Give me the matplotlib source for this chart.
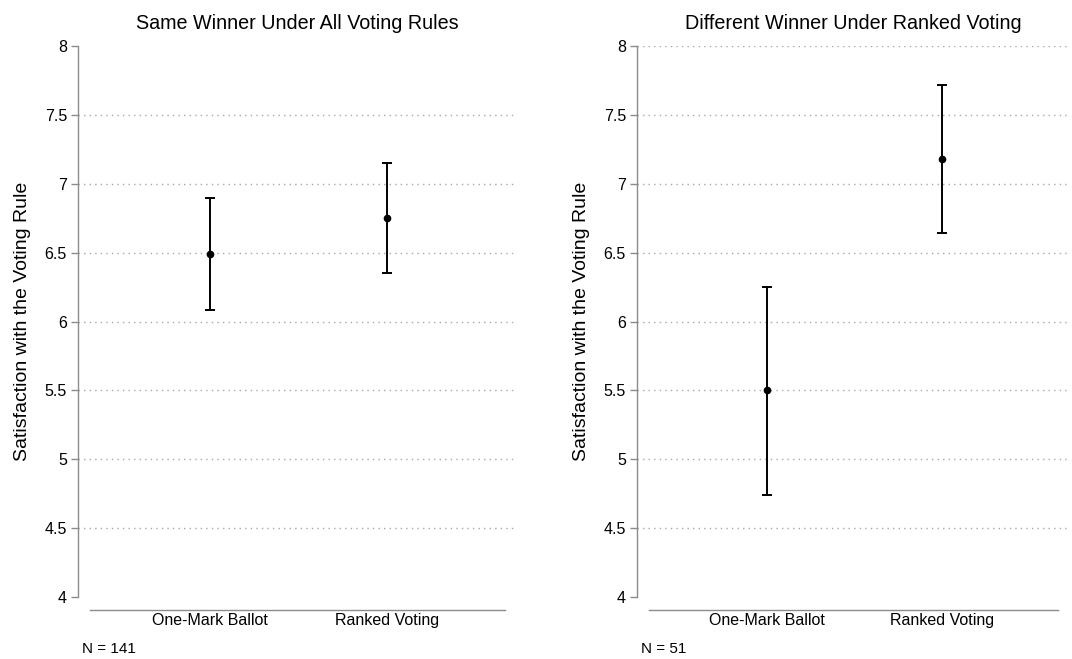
import numpy as np
import matplotlib.pyplot as plt

plt.rcParams['font.family'] = ['Liberation Sans', 'DejaVu Sans']

# data
categories = ["One-Mark Ballot", "Ranked Voting"]
titles = ["Same Winner Under All Voting Rules", "Different Winner Under Ranked Voting"]
n_labels = ["N = 141", "N = 51"]

same_mean = [6.49, 6.75]
same_lo = [6.08, 6.35]
same_hi = [6.90, 7.15]

diff_mean = [5.50, 7.18]
diff_lo = [4.74, 6.64]
diff_hi = [6.25, 7.72]

yticks = [4, 4.5, 5, 5.5, 6, 6.5, 7, 7.5, 8]
ytick_labels = ["4", "4.5", "5", "5.5", "6", "6.5", "7", "7.5", "8"]

W, H = 1072, 659
fig = plt.figure(figsize=(W / 100, H / 100), dpi=100)

panels = [
    dict(rect=[78 / W, 62 / H, 439 / W, 551 / H], mean=same_mean, lo=same_lo, hi=same_hi,
         title=titles[0], n=n_labels[0], grid=yticks[1:-1]),
    dict(rect=[637 / W, 62 / H, 433 / W, 551 / H], mean=diff_mean, lo=diff_lo, hi=diff_hi,
         title=titles[1], n=n_labels[1], grid=yticks[1:]),
]

x = np.arange(1, len(categories) + 1)
grey = "#8c8c8c"

for p in panels:
    ax = fig.add_axes(p["rect"])
    mean = np.array(p["mean"])
    err = [mean - np.array(p["lo"]), np.array(p["hi"]) - mean]

    for g in p["grid"]:
        ax.axhline(g, color="#a8a8a8", lw=1.0, ls=(0, (1, 3)), zorder=0)

    ax.errorbar(x, mean, yerr=err, fmt="o", color="black", ms=4.5,
                elinewidth=1.4, capsize=3.5, capthick=1.4, zorder=3)

    ax.set_xlim(0.26, 2.73)
    ax.set_ylim(4, 8)
    ax.set_yticks(yticks)
    ax.set_yticklabels(ytick_labels)
    ax.set_xticks(x)
    ax.set_xticklabels(categories)
    ax.tick_params(axis="x", length=0, pad=2, labelsize=11.5)
    ax.tick_params(axis="y", length=5, color=grey, width=1.0, pad=3, labelsize=11.5)

    for s in ["top", "right"]:
        ax.spines[s].set_visible(False)
    ax.spines["left"].set_color(grey)
    ax.spines["bottom"].set_color(grey)
    ax.spines["left"].set_linewidth(1.0)
    ax.spines["bottom"].set_linewidth(1.0)
    ax.spines["bottom"].set_position(("outward", 9.5))
    ax.spines["bottom"].set_bounds(0.33, 2.66)

    ax.set_ylabel("Satisfaction with the Voting Rule", fontsize=14, labelpad=10)
    ax.set_title(p["title"], fontsize=14.2, pad=12)
    ax.text(0.01, -0.095, p["n"], transform=ax.transAxes, fontsize=11,
            ha="left", va="center")

fig.savefig("out.png", dpi=100)
